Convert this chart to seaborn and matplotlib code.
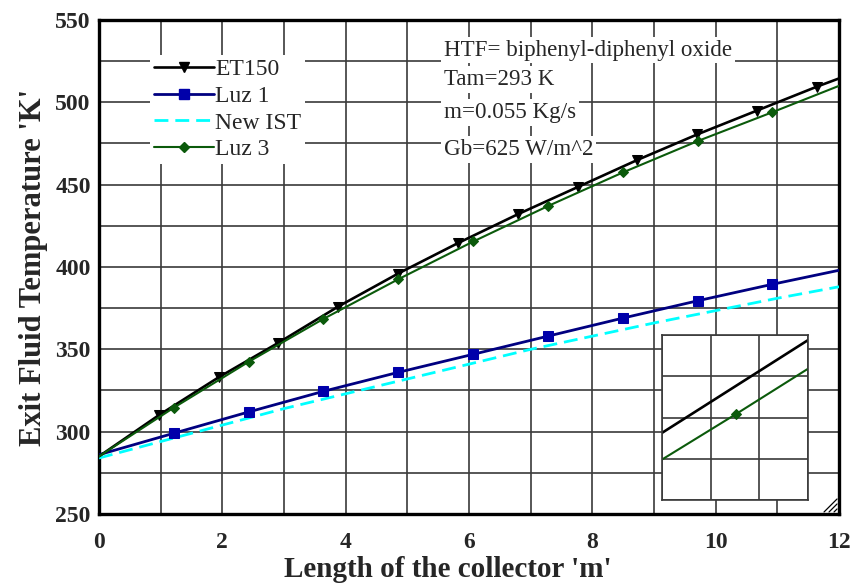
import numpy as np
import pandas as pd
import matplotlib
matplotlib.use("Agg")
import matplotlib.pyplot as plt
from matplotlib.lines import Line2D
from matplotlib.ticker import MultipleLocator
import seaborn as sns

# ---- data -------------------------------------------------------------
length_et150 = [0, 0.97, 1.94, 2.91, 3.88, 4.85, 5.82, 6.79, 7.76, 8.73, 9.70, 10.67, 11.64, 12.0]
temp_et150 = [285, 310, 333, 354, 376, 396, 414.5, 432, 448.5, 465, 480.5, 495, 509.5, 514.5]

length_luz = [0, 1.21, 2.43, 3.64, 4.85, 6.07, 7.28, 8.50, 9.71, 10.92, 12.0]
temp_luz1 = [286, 299, 312, 324.5, 336, 347, 358, 369, 379.5, 389.5, 398]
temp_luz3 = [285, 314.5, 342.5, 368.5, 392.5, 415.5, 437, 457.5, 476.5, 494, 510]

length_ist = [0, 1, 2, 3, 4, 5, 6, 7, 8, 9, 10, 11, 12]
temp_ist = [284, 294, 304, 314, 323, 332, 341, 350, 358, 366, 373.5, 381, 388]

series_names = ["ET150", "Luz 1", "New IST", "Luz 3"]
conditions = ["HTF= biphenyl-diphenyl oxide", "Tam=293 K", "m=0.055 Kg/s", "Gb=625 W/m^2"]

x_label = "Length of the collector 'm'"
y_label = "Exit Fluid Temperature 'K'"

# ---- style ------------------------------------------------------------
sns.set_style("white")
plt.rcParams["font.family"] = ["Liberation Serif", "DejaVu Serif"]

GRID = "#3a3a3a"
C_ET = "black"
C_L1 = "#000080"
C_L1M = "#0000AA"
C_IST = "#00FFFF"
C_L3 = "#0B5A0B"

fig = plt.figure(figsize=(8.5, 5.86), dpi=100)
ax = fig.add_axes([0.1165, 0.1229, 0.8706, 0.843])

df_et = pd.DataFrame({"x": length_et150, "y": temp_et150})
df_l1 = pd.DataFrame({"x": length_luz, "y": temp_luz1})
df_l3 = pd.DataFrame({"x": length_luz, "y": temp_luz3})
df_ist = pd.DataFrame({"x": length_ist, "y": temp_ist})

sns.lineplot(data=df_ist, x="x", y="y", ax=ax, color=C_IST, lw=2.0,
             dashes=False, linestyle=(0, (5, 2.5)), estimator=None, sort=False, zorder=3)
sns.lineplot(data=df_l1, x="x", y="y", ax=ax, color=C_L1, lw=2.0,
             marker="s", markersize=7.5, markerfacecolor=C_L1M, markeredgecolor=C_L1M,
             markevery=list(range(1, len(length_luz) - 1)),
             estimator=None, sort=False, zorder=4)
sns.lineplot(data=df_et, x="x", y="y", ax=ax, color=C_ET, lw=1.9,
             marker="v", markersize=7.5, markerfacecolor=C_ET, markeredgecolor=C_ET,
             markevery=list(range(1, len(length_et150) - 1)),
             estimator=None, sort=False, zorder=5)
sns.lineplot(data=df_l3, x="x", y="y", ax=ax, color=C_L3, lw=1.5,
             marker="D", markersize=5, markerfacecolor=C_L3, markeredgecolor=C_L3,
             markevery=list(range(1, len(length_luz) - 1)),
             estimator=None, sort=False, zorder=6)

ax.set_xlim(0, 12)
ax.set_ylim(250, 550)
ax.xaxis.set_major_locator(MultipleLocator(2))
ax.xaxis.set_minor_locator(MultipleLocator(1))
ax.yaxis.set_major_locator(MultipleLocator(50))
ax.yaxis.set_minor_locator(MultipleLocator(25))
ax.grid(which="both", color=GRID, lw=1.2)
ax.set_axisbelow(True)
ax.tick_params(which="both", length=0)
ax.tick_params(axis="x", pad=13)
ax.tick_params(axis="y", pad=6)
for lab in ax.get_xticklabels() + ax.get_yticklabels():
    lab.set_fontweight("bold")
    lab.set_fontsize(17)
for sp in ax.spines.values():
    sp.set_visible(True)
    sp.set_color("black")
    sp.set_linewidth(2.4)

ax.set_xlabel(x_label, fontsize=21, fontweight="bold")
ax.xaxis.set_label_coords(0.472, -0.086)
ax.set_ylabel(y_label, fontsize=22, fontweight="bold", labelpad=5)

# ---- legend -----------------------------------------------------------
handles = [
    Line2D([], [], color=C_ET, lw=1.9, marker="v", markersize=7.5),
    Line2D([], [], color=C_L1, lw=2.0, marker="s", markersize=7.5,
           markerfacecolor=C_L1M, markeredgecolor=C_L1M),
    Line2D([], [], color=C_IST, lw=2.0, linestyle=(0, (5, 2.5))),
    Line2D([], [], color=C_L3, lw=1.5, marker="D", markersize=5,
           markerfacecolor=C_L3, markeredgecolor=C_L3),
]
leg = ax.legend(handles, series_names, loc="upper left",
                bbox_to_anchor=(0.069, 0.929), fontsize=17, frameon=True,
                facecolor="white", edgecolor="none", framealpha=1.0,
                fancybox=False, borderpad=0.15, borderaxespad=0,
                handlelength=2.55, handletextpad=0.05, labelspacing=0.22)
leg.set_zorder(8)

# ---- operating conditions --------------------------------------------
cond_y = [0.939, 0.879, 0.813, 0.738]
for txt, yy in zip(conditions, cond_y):
    ax.text(0.466, yy, txt, transform=ax.transAxes, fontsize=16.6,
            ha="left", va="center", zorder=8,
            bbox=dict(facecolor="white", edgecolor="none", pad=2))

# ---- zoomed inset -----------------------------------------------------
ins = ax.inset_axes([0.761, 0.028, 0.197, 0.334])
ins.set_zorder(9)
ins.set_facecolor("white")
sns.lineplot(data=df_et, x="x", y="y", ax=ins, color=C_ET, lw=1.9,
             estimator=None, sort=False)
sns.lineplot(data=df_l3, x="x", y="y", ax=ins, color=C_L3, lw=1.5,
             marker="D", markersize=5, markerfacecolor=C_L3, markeredgecolor=C_L3,
             markevery=list(range(1, len(length_luz) - 1)),
             estimator=None, sort=False)
ins.set_xlim(10.39, 11.43)
ins.set_ylim(479.5, 507.2)
ins.set_xticks(np.linspace(10.39, 11.43, 4))
ins.set_yticks(np.linspace(479.5, 507.2, 5))
ins.set_xticklabels([])
ins.set_yticklabels([])
ins.set_xlabel("")
ins.set_ylabel("")
ins.tick_params(length=0)
ins.grid(True, color=GRID, lw=1.2)
ins.set_axisbelow(True)
for sp in ins.spines.values():
    sp.set_visible(True)
    sp.set_color(GRID)
    sp.set_linewidth(1.2)

# resize grip in the lower right corner
for d in (5, 10, 15):
    ax.plot([1 - d / 740, 1 - 2 / 740], [2 / 494, d / 494], transform=ax.transAxes,
            color="black", lw=0.9, zorder=10, clip_on=False)

fig.savefig("out.png", dpi=100, facecolor="white")
